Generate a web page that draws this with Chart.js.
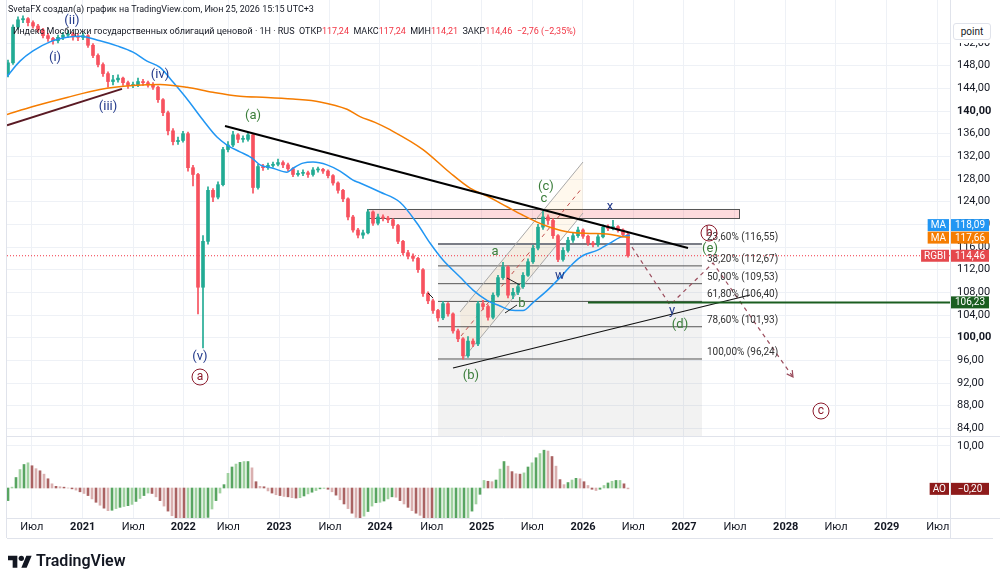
<!DOCTYPE html>
<html>
<head>
<meta charset="utf-8">
<script src="https://cdn.jsdelivr.net/npm/chart.js@4.4.1/dist/chart.umd.min.js"></script>
<style>
  body { margin: 0; background: #fff; font-family: Roboto, sans-serif; }
  #wrap { position: relative; width: 1000px; height: 581px; overflow: hidden; }
  #c { position: absolute; left: 0; top: 0; }
  .hdr { position: absolute; white-space: nowrap; color: #131722; }
  .red { color: #f23645; }
  #pointbox { position: absolute; left: 951px; top: 16px; width: 48px; height: 27px; background: #fff; }
  #pointbox div { position: absolute; left: 2px; top: 7px; width: 36px; height: 15px; border: 1px solid #e0e3eb; border-radius: 3px;
    font-size: 10px; line-height: 15px; text-align: center; color: #131722; }
  #logo { position: absolute; left: 8px; top: 551px; display: flex; align-items: center; }
  #logo span { font-size: 16px; font-weight: 600; color: #131722; margin-left: 4px; }
</style>
</head>
<body>
<div id="wrap">
  <canvas id="c" width="1000" height="581"></canvas>
  <div class="hdr" style="left:8px;top:4px;font-size:9px;">SvetaFX создал(а) график на TradingView.com, Июн 25, 2026 15:15 UTC+3</div>
  <div class="hdr" style="left:13px;top:26px;font-size:9px;">Индекс Мосбиржи государственных облигаций ценовой · 1H · RUS&nbsp; ОТКР<span class="red">117,24</span>&nbsp; МАКС<span class="red">117,24</span>&nbsp; МИН<span class="red">114,21</span>&nbsp; ЗАКР<span class="red">114,46</span>&nbsp; <span class="red">−2,76 (−2,35%)</span></div>
  <div id="pointbox"><div>point</div></div>
  <div id="logo">
    <svg width="24" height="16" viewBox="0 0 36 24"><path d="M14 22H7V11H0V4h14v18zM28 22h-8l7.5-18h8L28 22z" fill="#131722"/><circle cx="20" cy="8" r="4" fill="#131722"/></svg>
    <span>TradingView</span>
  </div>
</div>
<script>
// time axis (decimal years, as placed on the TradingView axis)
const tMin = 2020.24, tMax = 2029.67;
const tickPos = [2020.487, 2020.997, 2021.503, 2022.003, 2022.453, 2022.96, 2023.47, 2023.97, 2024.487, 2024.987,
  2025.493, 2026.0, 2026.503, 2027.01, 2027.52, 2028.027, 2028.53, 2029.037, 2029.547];
const tickLabels = ['Июл', '2021', 'Июл', '2022', 'Июл', '2023', 'Июл', '2024', 'Июл', '2025',
  'Июл', '2026', 'Июл', '2027', 'Июл', '2028', 'Июл', '2029', 'Июл'];
const priceTicks = [84, 88, 92, 96, 100, 104, 108, 112, 116, 120, 124, 128, 132, 136, 140, 144, 148, 152];

// candles (one bar every 0.05 year)
const candleStart = 2020.25, candleStep = 0.05;
const firstOpen = 146.5;
const closes = [148.5,154.8,156.1,156.3,155.6,155.0,154.3,153.3,152.8,152.4,
  153.0,153.4,153.6,153.1,153.0,153.3,151.6,149.8,148.2,146.6,
  145.2,145.5,145.8,145.0,144.5,144.6,145.2,145.0,144.6,144.2,
  142.0,139.7,136.5,134.6,134.8,136.0,130.0,128.8,108.9,117.0,
  126.0,124.8,127.0,133.2,134.0,135.8,135.0,135.0,135.8,126.5,
  130.2,130.0,130.4,130.6,130.9,130.5,129.8,128.8,129.0,129.1,
  128.8,129.6,129.7,129.4,128.6,127.3,126.0,124.5,121.3,119.0,
  118.1,118.5,122.2,120.2,121.3,121.1,120.8,119.8,117.0,115.0,
  114.4,114.0,112.0,107.8,106.5,104.8,103.5,106.0,104.2,101.2,
  99.8,96.8,99.4,98.9,106.0,105.5,103.6,107.5,110.6,112.5,
  107.5,108.0,109.0,111.0,113.4,115.8,119.5,121.3,120.7,118.0,
  113.8,115.4,117.2,118.0,119.0,117.9,116.7,116.4,117.8,119.5,
  119.3,119.6,119.0,118.2,114.46];
const highs = [149.0,155.2,156.6,156.8,156.5,155.9,155.3,154.6,153.7,153.0,
  153.4,153.9,154.2,153.9,153.6,153.8,153.5,151.9,150.1,148.5,
  146.9,146.3,146.4,146.0,145.3,145.1,145.8,145.6,145.3,145.0,
  144.4,142.2,140.0,136.9,135.4,136.4,136.3,130.4,129.0,118.0,
  126.6,126.3,127.5,133.6,134.6,136.4,136.0,135.6,136.2,136.0,
  130.6,130.6,130.8,131.0,131.5,131.2,130.8,130.0,129.5,129.6,
  129.4,130.0,130.1,129.9,129.6,128.8,127.5,126.2,124.7,121.6,
  119.3,119.0,122.6,122.4,121.8,121.7,121.4,121.0,120.0,117.2,
  115.4,114.8,114.2,112.2,108.1,106.8,105.0,106.4,106.2,104.4,
  101.5,100.0,100.2,99.8,106.4,106.6,105.8,107.9,111.0,113.3,
  112.7,108.7,109.5,111.5,113.9,116.3,120.0,122.3,121.7,121.0,
  118.2,115.9,117.7,118.5,119.5,119.2,118.1,117.0,118.2,119.9,
  119.9,120.7,119.8,119.2,118.4];
const lows = [146.0,148.2,154.4,155.6,155.0,154.6,153.9,152.9,152.3,151.8,
  152.0,152.6,153.0,152.5,152.4,152.6,151.2,149.4,147.8,146.1,
  144.2,144.6,145.1,144.5,144.0,144.1,144.3,144.5,144.2,143.8,
  141.5,139.2,135.8,134.0,134.1,134.5,129.4,126.8,104.2,98.2,
  116.5,124.0,124.5,126.8,132.8,133.7,134.4,134.5,134.7,125.5,
  126.2,129.5,129.7,130.1,130.3,130.0,129.4,128.4,128.5,128.6,
  128.3,128.5,129.2,129.0,128.2,126.9,125.5,124.0,120.8,118.6,
  117.6,117.5,118.3,119.8,119.9,120.6,120.3,119.3,116.6,114.6,
  113.9,113.5,111.5,107.3,106.0,104.3,102.9,103.2,103.8,100.8,
  99.3,96.2,96.5,98.4,98.6,105.0,103.1,103.3,107.2,110.3,
  107.0,106.9,107.6,108.7,110.8,113.1,115.5,119.1,120.0,117.5,
  113.4,113.5,115.1,116.8,117.7,117.5,116.3,116.0,116.1,117.6,
  118.9,119.0,118.6,117.8,114.21];

// moving averages
const maBlueT = [2020.24,2020.37,2020.50,2020.67,2020.84,2020.97,2021.17,2021.34,2021.50,2021.64,
  2021.77,2021.90,2022.05,2022.20,2022.34,2022.44,2022.57,2022.69,2022.77,2022.90,
  2023.04,2023.10,2023.20,2023.30,2023.44,2023.57,2023.70,2023.77,2023.97,2024.17,
  2024.34,2024.47,2024.60,2024.77,2024.90,2025.04,2025.17,2025.27,2025.40,2025.50,
  2025.64,2025.77,2025.90,2026.00,2026.14,2026.27,2026.37,2026.47];
const maBlueV = [146.1,148.8,150.6,152.2,153.0,153.2,152.4,151.5,150.4,148.8,
  147.7,145.1,141.9,138.4,135.4,134.0,132.8,131.7,130.5,129.9,
  129.2,129.9,130.8,131.0,130.5,129.4,127.8,127.3,125.7,123.9,
  120.2,116.7,113.7,110.7,108.4,106.6,105.6,104.9,104.8,106.2,
  108.3,110.6,113.1,114.5,115.4,116.7,117.7,118.09];
const maOrangeT = [2020.24,2020.50,2020.84,2021.17,2021.50,2021.77,2022.04,2022.30,2022.57,2022.84,
  2023.10,2023.37,2023.64,2023.77,2023.92,2024.07,2024.40,2024.67,2024.87,2025.04,
  2025.24,2025.40,2025.54,2025.67,2025.87,2026.07,2026.24,2026.40,2026.47];
const maOrangeV = [139.4,140.8,142.4,143.8,144.5,144.7,144.2,143.3,142.6,142.4,
  142.1,141.6,140.3,139.0,138.0,136.7,133.2,129.1,126.4,125.0,
  123.1,121.6,120.4,119.5,118.6,118.4,118.3,117.8,117.66];

// Awesome Oscillator (one bar every 0.04 year)
const aoStart = 2020.25, aoStep = 0.04;
const aoValues = [-3.0,0.2,2.5,4.4,5.6,6.0,5.3,4.6,4.1,3.3,
  2.2,1.0,0.4,0.3,0.2,0.0,-0.2,-0.5,-0.9,-1.3,
  -1.8,-2.6,-3.4,-4.1,-4.8,-5.4,-5.3,-4.9,-4.6,-4.4,
  -4.2,-3.9,-3.2,-2.5,-1.8,-1.2,-1.3,-2.1,-3.0,-4.3,
  -5.5,-6.6,-7.2,-7.6,-7.8,-7.8,-7.8,-7.8,-7.7,-7.5,
  -7.0,-5.0,-3.0,-1.2,0.8,3.5,5.0,5.7,6.1,6.3,
  6.3,4.8,1.5,0.4,0.3,-0.7,-1.2,-1.6,-1.8,-2.0,
  -2.1,-2.3,-2.4,-2.3,-1.9,-1.4,-1.0,-0.6,-0.2,-0.1,
  -0.3,-0.9,-1.7,-2.8,-3.8,-4.9,-6.0,-7.0,-7.4,-6.7,
  -5.6,-4.3,-3.5,-3.4,-3.1,-2.6,-2.1,-2.2,-3.0,-3.8,
  -4.6,-5.4,-6.0,-6.5,-7.3,-7.7,-7.8,-7.8,-7.8,-7.8,
  -7.8,-7.8,-7.8,-7.7,-7.6,-7.1,-5.5,-3.8,-1.5,1.8,
  1.6,1.5,1.9,4.5,6.3,5.2,3.9,3.4,3.3,3.6,
  5.0,6.0,7.2,8.2,9.0,8.8,7.5,5.2,2.0,0.8,
  1.3,1.9,2.3,2.2,1.5,0.6,-0.3,-0.6,-0.3,0.6,
  1.2,1.6,1.8,1.8,1.0,-0.2];

// last values
const lastPrice = 114.46, lastMaBlue = 118.09, lastMaOrange = 117.66, lastAO = -0.20;
const supportLevel = 106.23, supportStartT = 2026.05;

// drawings (time, price)
const maroonLine = [[2020.24, 137.5], [2021.39, 143.9]];
const upperTrend = [[2022.42, 137.35], [2027.05, 115.83]];
const lowerTrend = [[2024.70, 94.65], [2027.67, 107.53]];
const zoneT = [2023.84, 2027.56], zoneP = [121.12, 122.71];
const fibT = [2024.55, 2027.19], fibTextT = 2027.24;
const fibPcts = ['23,60%', '38,20%', '50,00%', '61,80%', '78,60%', '100,00%'];
const fibValues = [116.55, 112.67, 109.53, 106.40, 101.93, 96.24];
const chanUpper = [[2024.77, 104.53], [2026.0, 131.0]];
const chanLower = [[2024.79, 96.06], [2026.0, 122.0]];
const chanMid = [[2024.78, 100.3], [2025.99, 126.4]];
const smallLines = [
  [[2025.24, 110.53], [2025.37, 109.29]],
  [[2025.22, 104.36], [2025.34, 105.77]],
  [[2024.45, 107.88], [2024.50, 107.0]]
];
const projT = [2026.49, 2026.87, 2027.30, 2028.10];
const projP = [116.0, 105.77, 113.18, 93.06];
const waveText = ['(ii)', '(i)', '(iii)', '(iv)', '(v)', 'a', '(a)', '(b)', '(c)', 'c', 'a', 'b', 'w', 'x', 'y', '(d)', '(e)', 'b', 'c'];
const waveT = [2020.89, 2020.72, 2021.25, 2021.77, 2022.17, 2022.17, 2022.70, 2024.88, 2025.63, 2025.61, 2025.12, 2025.39, 2025.77, 2026.27, 2026.89, 2026.97, 2027.27, 2027.26, 2028.38];
const waveP = [155.9, 149.35, 140.7, 146.35, 96.6, 93.06, 139.12, 93.24, 126.59, 124.47, 115.12, 105.94, 110.88, 123.06, 104.7, 102.24, 115.65, 118.47, 87.06];
const waveKind = ['blue', 'blue', 'blue', 'blue', 'blue', 'circle', 'green', 'green', 'green', 'green', 'green', 'green', 'blue', 'blue', 'blue', 'green', 'green', 'circle', 'circle'];

const UP = '#22ab94', DN = '#f7525f';
const fmt = v => v.toFixed(2).replace('.', ',').replace('-', '−');

const candleT = closes.map((c, i) => +(candleStart + i * candleStep).toFixed(3));
const opens = closes.map((c, i) => i === 0 ? firstOpen : closes[i - 1]);
const candleColor = closes.map((c, i) => c >= opens[i] ? UP : DN);
const aoT = aoValues.map((v, i) => +(aoStart + i * aoStep).toFixed(3));
const aoColor = aoValues.map((v, i) => {
  const rising = i === 0 || v >= aoValues[i - 1];
  const light = i % 2 === 1;
  if (rising) return light ? 'rgba(130,195,130,0.75)' : 'rgba(70,155,80,0.9)';
  return light ? 'rgba(205,150,150,0.75)' : 'rgba(155,70,70,0.85)';
});

function seg(pts, color, width, dash, order) {
  return {
    type: 'line', data: pts.map(p => ({x: p[0], y: p[1]})), borderColor: color, borderWidth: width,
    borderDash: dash || [], pointRadius: 0, yAxisID: 'y', order: order === undefined ? 0 : order, tension: 0
  };
}

const datasets = [
  {type: 'bar', data: candleT.map((t, i) => ({x: t, y: [lows[i], highs[i]]})), backgroundColor: candleColor,
    barThickness: 1, grouped: false, yAxisID: 'y', order: 2},
  {type: 'bar', data: candleT.map((t, i) => ({x: t, y: [opens[i], closes[i]]})), backgroundColor: candleColor,
    barThickness: 3, grouped: false, yAxisID: 'y', order: 2, minBarLength: 1},
  {type: 'line', data: maOrangeT.map((t, i) => ({x: t, y: maOrangeV[i]})), borderColor: '#f57c00', borderWidth: 1.5,
    pointRadius: 0, cubicInterpolationMode: 'monotone', yAxisID: 'y', order: 1},
  {type: 'line', data: maBlueT.map((t, i) => ({x: t, y: maBlueV[i]})), borderColor: '#2196f3', borderWidth: 1.5,
    pointRadius: 0, cubicInterpolationMode: 'monotone', yAxisID: 'y', order: 1},
  {type: 'bar', data: aoT.map((t, i) => ({x: t, y: aoValues[i]})), backgroundColor: aoColor,
    barThickness: 2, grouped: false, yAxisID: 'ao', order: 2},
  seg([[tMin, lastPrice], [tMax, lastPrice]], '#f23645', 1, [1, 2], 3),
  seg([[supportStartT, supportLevel], [tMax, supportLevel]], '#1b5e20', 2, [], 0),
  seg(maroonLine, '#5a1a24', 2),
  seg(upperTrend, '#000', 2),
  seg(lowerTrend, '#111', 1.2),
  seg(chanUpper, '#a8a8a8', 1, [], 3),
  seg(chanLower, '#a8a8a8', 1, [], 3),
  seg(chanMid, '#c0504d', 1, [4, 4], 3),
  seg(projT.map((t, i) => [t, projP[i]]), '#9b4d5d', 1.2, [4, 4], 0)
];
smallLines.forEach(l => datasets.push(seg(l, '#222', 1)));
fibValues.forEach((v, i) => datasets.push(seg([[fibT[0], v], [fibT[1], v]], i === 0 ? '#7a7d86' : '#555', i === 0 ? 2 : 1, [], 3)));

const drawings = {
  id: 'drawings',
  beforeDatasetsDraw(chart) {
    const {ctx, chartArea: a, scales: {x, y}} = chart;
    const X = v => x.getPixelForValue(v), Y = v => y.getPixelForValue(v);
    ctx.save();
    ctx.beginPath(); ctx.rect(a.left, y.top, a.right - a.left, y.bottom - y.top); ctx.clip();
    ctx.fillStyle = 'rgba(128,128,128,0.1)';
    ctx.fillRect(X(fibT[0]), Y(fibValues[0]), X(fibT[1]) - X(fibT[0]), y.bottom - Y(fibValues[0]));
    ctx.fillStyle = 'rgba(242,54,69,0.18)';
    const zx = X(zoneT[0]), zy = Y(zoneP[1]), zw = X(zoneT[1]) - zx, zh = Y(zoneP[0]) - zy;
    ctx.fillRect(zx, zy, zw, zh);
    ctx.strokeStyle = '#555'; ctx.lineWidth = 1;
    ctx.strokeRect(zx + 0.5, zy + 0.5, zw, zh);
    ctx.fillStyle = 'rgba(255,152,0,0.07)';
    ctx.beginPath();
    ctx.moveTo(X(chanUpper[0][0]), Y(chanUpper[0][1]));
    ctx.lineTo(X(chanUpper[1][0]), Y(chanUpper[1][1]));
    ctx.lineTo(X(chanLower[1][0]), Y(chanLower[1][1]));
    ctx.lineTo(X(chanLower[0][0]), Y(chanLower[0][1]));
    ctx.closePath(); ctx.fill();
    ctx.restore();
  },
  afterDatasetsDraw(chart) {
    const {ctx, scales: {x, y}} = chart;
    const X = v => x.getPixelForValue(v), Y = v => y.getPixelForValue(v);
    ctx.save();
    // arrow head at end of projection
    const n = projT.length;
    const ex = X(projT[n - 1]), ey = Y(projP[n - 1]);
    const ang = Math.atan2(ey - Y(projP[n - 2]), ex - X(projT[n - 2]));
    ctx.strokeStyle = '#9b4d5d'; ctx.lineWidth = 1.2;
    ctx.beginPath();
    ctx.moveTo(ex - 7 * Math.cos(ang - 0.5), ey - 7 * Math.sin(ang - 0.5));
    ctx.lineTo(ex, ey);
    ctx.lineTo(ex - 7 * Math.cos(ang + 0.5), ey - 7 * Math.sin(ang + 0.5));
    ctx.stroke();
    // fib texts
    ctx.font = '10px Roboto'; ctx.fillStyle = '#333'; ctx.textAlign = 'left'; ctx.textBaseline = 'middle';
    fibValues.forEach((v, i) => ctx.fillText(fibPcts[i] + ' (' + fmt(v) + ')', X(fibTextT), Y(v) - 6.5));
    // wave labels
    ctx.textAlign = 'center';
    waveText.forEach((s, i) => {
      const px = X(waveT[i]), py = Y(waveP[i]);
      if (waveKind[i] === 'circle') {
        ctx.strokeStyle = '#8b1a2b'; ctx.lineWidth = 1;
        ctx.beginPath(); ctx.arc(px, py, 8, 0, Math.PI * 2); ctx.stroke();
        ctx.fillStyle = '#8b1a2b'; ctx.font = '12px Roboto';
        ctx.fillText(s, px, py);
      } else {
        ctx.fillStyle = waveKind[i] === 'blue' ? '#22398a' : '#3a7d3a';
        ctx.font = '13px Roboto';
        ctx.fillText(s, px, py);
      }
    });
    ctx.restore();
  },
  afterDraw(chart) {
    const {ctx, chartArea: a, scales: {y, ao}} = chart;
    ctx.save();
    ctx.strokeStyle = '#e0e3eb'; ctx.lineWidth = 1;
    ctx.beginPath();
    ctx.moveTo(a.right + 0.5, 0); ctx.lineTo(a.right + 0.5, 538);
    ctx.moveTo(a.left, y.bottom + 0.5); ctx.lineTo(1000, y.bottom + 0.5);
    ctx.moveTo(a.left, a.bottom + 0.5); ctx.lineTo(1000, a.bottom + 0.5);
    ctx.moveTo(a.left, 538.5); ctx.lineTo(993, 538.5);
    ctx.moveTo(a.left - 0.5, 0); ctx.lineTo(a.left - 0.5, 538);
    ctx.stroke();
    const tag = (label, value, yc, color) => {
      ctx.font = '10px Roboto'; ctx.textBaseline = 'middle'; ctx.textAlign = 'center';
      ctx.fillStyle = color;
      ctx.fillRect(a.right + 1, yc - 6, 38, 12);
      ctx.fillStyle = '#fff'; ctx.fillText(value, a.right + 20, yc + 0.5);
      if (label) {
        const w = ctx.measureText(label).width + 6;
        ctx.fillStyle = color; ctx.fillRect(a.right - 1 - w, yc - 6, w, 12);
        ctx.fillStyle = '#fff'; ctx.fillText(label, a.right - 1 - w / 2, yc + 0.5);
      }
    };
    const yOr = y.getPixelForValue(lastMaOrange);
    const yBl = Math.min(y.getPixelForValue(lastMaBlue), yOr - 12.5);
    tag('MA', fmt(lastMaBlue), yBl, '#2196f3');
    tag('MA', fmt(lastMaOrange), yOr, '#f57c00');
    tag('RGBI', fmt(lastPrice), y.getPixelForValue(lastPrice), '#e5484d');
    tag('', fmt(supportLevel), y.getPixelForValue(supportLevel), '#1b5e20');
    tag('AO', fmt(lastAO), ao.getPixelForValue(lastAO), '#8e1b1b');
    ctx.restore();
  }
};

const noPad = s => { s.paddingTop = 0; s.paddingBottom = 0; s.paddingLeft = 0; s.paddingRight = 0; };
Chart.defaults.font.family = 'Roboto, sans-serif';
Chart.defaults.color = '#131722';

new Chart(document.getElementById('c'), {
  type: 'bar',
  data: {datasets},
  options: {
    responsive: false, animation: false, events: [],
    layout: {padding: {left: 7, right: 0, top: 0, bottom: 43}},
    plugins: {legend: {display: false}, tooltip: {enabled: false}},
    scales: {
      x: {
        type: 'linear', min: tMin, max: tMax, offset: false,
        grid: {color: '#eef1f6', drawTicks: false, offset: false}, border: {display: false},
        afterBuildTicks: s => { s.ticks = tickPos.map(v => ({value: v})); },
        afterFit: s => { s.height = 20; noPad(s); },
        ticks: {
          autoSkip: false, maxRotation: 0, padding: 3,
          callback: (v, i) => tickLabels[i],
          font: c => ({size: 11, weight: /^\d/.test(tickLabels[c.index] || '') ? 'bold' : 'normal'})
        }
      },
      y: {
        type: 'linear', position: 'right', stack: 'v', stackWeight: 436, min: 82.65, max: 159.59,
        grid: {color: '#eef1f6', drawTicks: false}, border: {display: false},
        afterBuildTicks: s => { s.ticks = priceTicks.map(v => ({value: v})); },
        afterFit: s => { s.width = 50; noPad(s); },
        ticks: {
          autoSkip: false, padding: 7, callback: v => fmt(v),
          font: c => ({size: 11, weight: (c.tick && (c.tick.value === 100 || c.tick.value === 140)) ? 'bold' : 'normal'})
        }
      },
      ao: {
        type: 'linear', position: 'right', stack: 'v', stackWeight: 82, min: -7.14, max: 12.38,
        grid: {color: '#eef1f6', drawTicks: false}, border: {display: false},
        afterBuildTicks: s => { s.ticks = [{value: 10}]; },
        afterFit: s => { s.width = 50; noPad(s); },
        ticks: {autoSkip: false, padding: 7, callback: v => fmt(v), font: {size: 11}}
      }
    }
  },
  plugins: [drawings]
});
</script>
</body>
</html>
